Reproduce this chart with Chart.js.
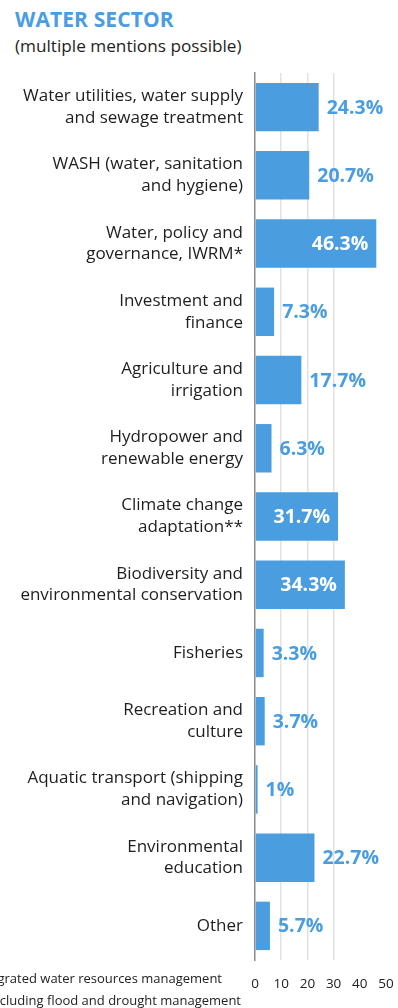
<!DOCTYPE html>
<html>
<head>
<meta charset="utf-8">
<script src="https://cdn.jsdelivr.net/npm/chart.js@4/dist/chart.umd.min.js"></script>
<style>
  html, body { margin: 0; padding: 0; background: #fff; }
  body { width: 398px; height: 1008px; position: relative; overflow: hidden; font-family: "Open Sans", sans-serif; }
  #title { position: absolute; left: 15px; top: 5px; font-size: 21px; font-weight: 700; color: #4a9ddf; letter-spacing: 0.1px; }
  #subtitle { position: absolute; left: 15px; top: 34px; font-size: 17.2px; color: #1e1e1e; }
  .note { position: absolute; font-size: 13px; color: #222; white-space: nowrap; text-align: right; }
  #wrap { position: absolute; left: 0; top: 0; width: 398px; height: 1008px; }
</style>
</head>
<body>
<div id="title">WATER SECTOR</div>
<div id="subtitle">(multiple mentions possible)</div>
<div id="wrap"><canvas id="chart" width="398" height="1008"></canvas></div>
<div class="note" style="right:176px;top:969px;">*Integrated water resources management</div>
<div class="note" style="right:157px;top:991px;">**Including flood and drought management</div>
<script>
// Categories (multi-line tick labels) and shares in percent
const categories = [
  ["Water utilities, water supply", "and sewage treatment"],
  ["WASH (water, sanitation", "and hygiene)"],
  ["Water, policy and", "governance, IWRM*"],
  ["Investment and", "finance"],
  ["Agriculture and", "irrigation"],
  ["Hydropower and", "renewable energy"],
  ["Climate change", "adaptation**"],
  ["Biodiversity and", "environmental conservation"],
  "Fisheries",
  ["Recreation and", "culture"],
  ["Aquatic transport (shipping", "and navigation)"],
  ["Environmental", "education"],
  "Other"
];
const shares = [24.3, 20.7, 46.3, 7.3, 17.7, 6.3, 31.7, 34.3, 3.3, 3.7, 1, 22.7, 5.7];
const xTicks = [0, 10, 20, 30, 40, 50];
const gridAt = [10, 20, 30];

const blue = '#4a9ddf';

// value labels: inside (white) for long bars, outside (blue) otherwise
const valueLabels = {
  id: 'valueLabels',
  afterDatasetsDraw(chart) {
    const ctx = chart.ctx;
    const meta = chart.getDatasetMeta(0);
    ctx.save();
    ctx.font = 'bold 19.5px "Open Sans"';
    ctx.textBaseline = 'middle';
    meta.data.forEach((bar, i) => {
      const v = shares[i];
      const txt = v + '%';
      if (v >= 30) {
        ctx.fillStyle = '#fff';
        ctx.textAlign = 'right';
        ctx.fillText(txt, bar.x - 8, bar.y + 1);
      } else {
        ctx.fillStyle = blue;
        ctx.textAlign = 'left';
        ctx.fillText(txt, bar.x + 8, bar.y + 1);
      }
    });
    ctx.restore();
  }
};

new Chart(document.getElementById('chart').getContext('2d'), {
  type: 'bar',
  data: {
    labels: categories,
    datasets: [{
      data: shares,
      backgroundColor: blue,
      borderWidth: 0,
      categoryPercentage: 1,
      barPercentage: 0.71
    }]
  },
  options: {
    indexAxis: 'y',
    responsive: false,
    animation: false,
    devicePixelRatio: 1,
    layout: { padding: { top: 73, right: 12, left: 0, bottom: 0 } },
    plugins: { legend: { display: false }, tooltip: { enabled: false } },
    scales: {
      x: {
        min: 0,
        max: 50,
        afterBuildTicks(scale) { scale.ticks = xTicks.map(v => ({ value: v })); },
        afterFit(scale) { scale.height = 48; },
        grid: {
          drawTicks: true,
          tickLength: 16,
          tickColor: 'rgba(0,0,0,0)',
          color: c => gridAt.includes(c.tick && c.tick.value) ? '#e2e2e2' : 'rgba(0,0,0,0)',
          lineWidth: 1.5
        },
        border: { display: false },
        ticks: { padding: 0, color: '#222', font: { family: 'Open Sans', size: 13.5 } }
      },
      y: {
        afterFit(scale) { scale.width = 255; },
        grid: { display: false, drawTicks: false },
        border: { display: true, color: '#8a8a8a', width: 1.5 },
        ticks: {
          padding: 12,
          color: '#1e1e1e',
          crossAlign: 'near',
          font: { family: 'Open Sans', size: 17, lineHeight: 1.28 }
        }
      }
    }
  },
  plugins: [valueLabels]
});
</script>
</body>
</html>
